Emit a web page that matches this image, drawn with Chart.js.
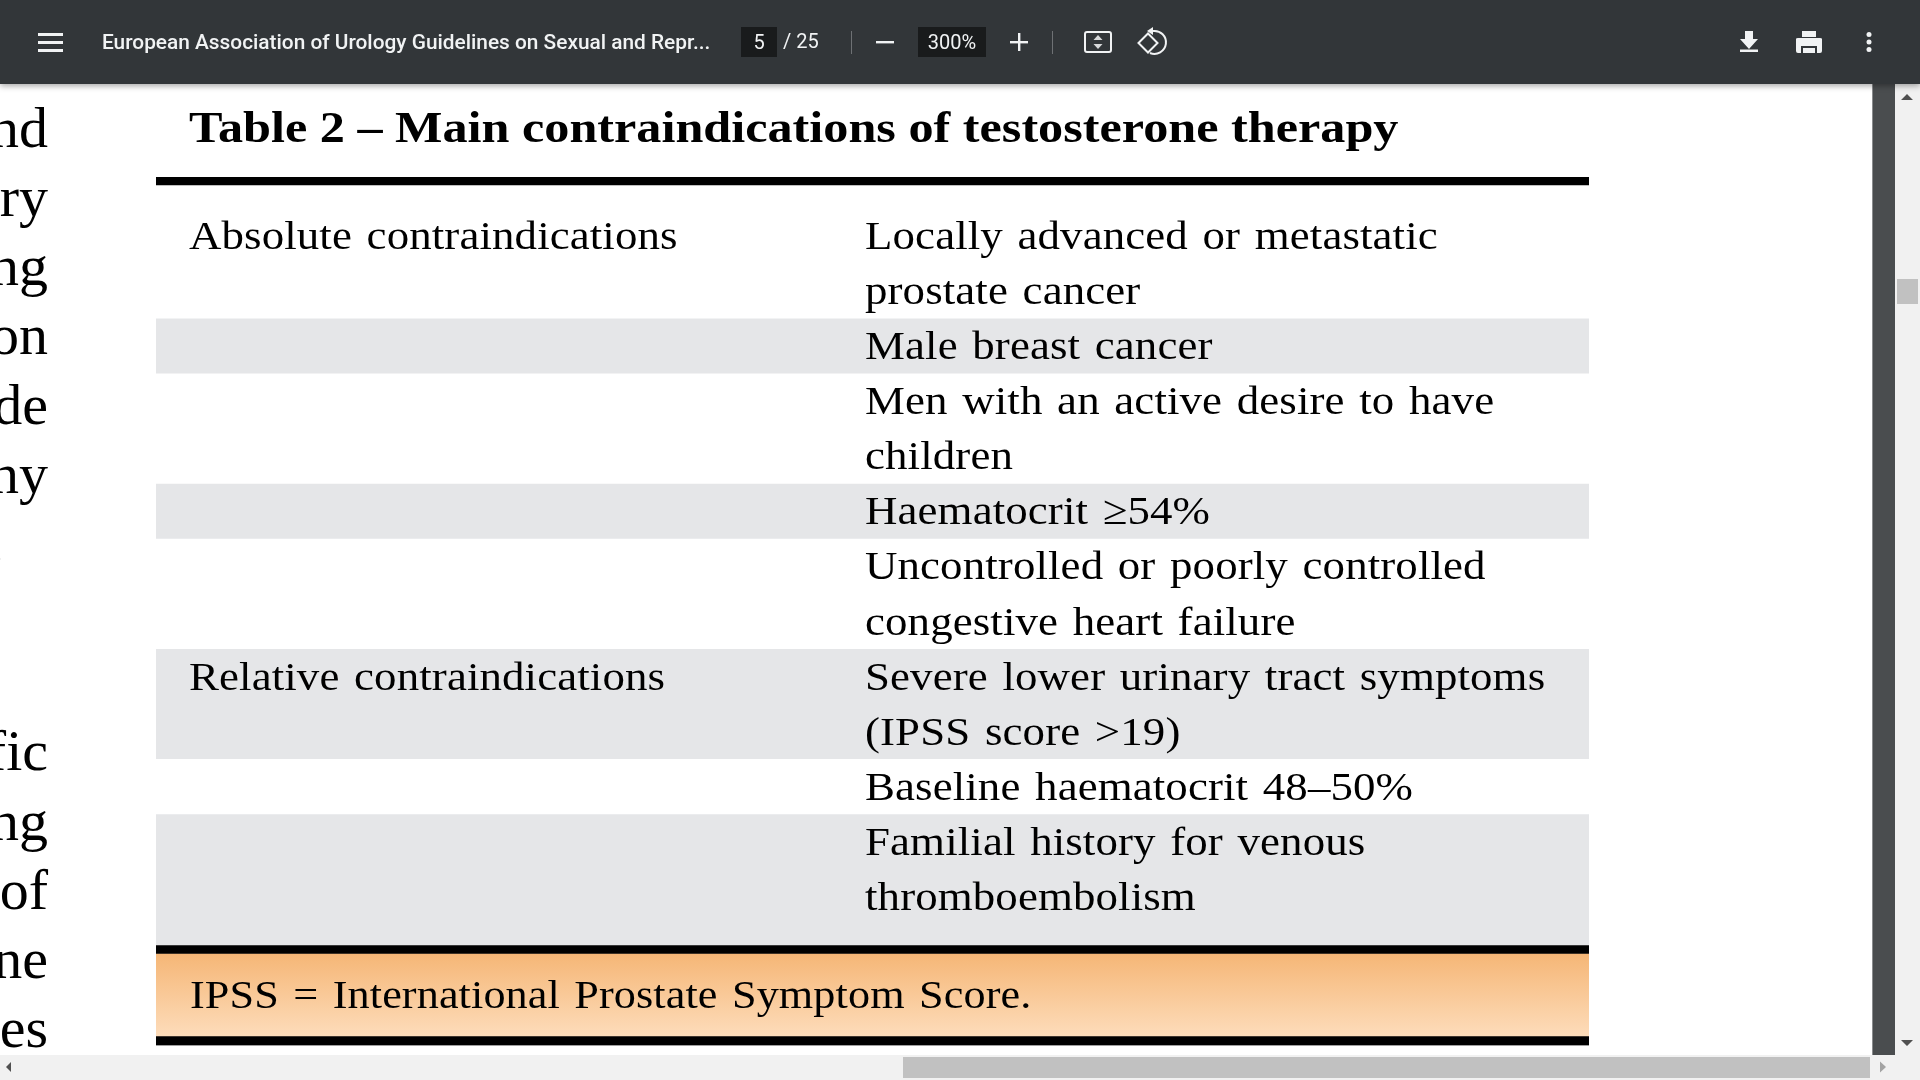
<!DOCTYPE html>
<html>
<head>
<meta charset="utf-8">
<title>Table 2</title>
<script src="https://cdn.jsdelivr.net/npm/chart.js@4"></script>
<style>
  html, body { margin: 0; padding: 0; width: 1920px; height: 1080px; overflow: hidden; background: #fff; }
  #sheet { position: absolute; left: 0; top: 0; }
  #toolbar { position: absolute; left: 0; top: 0; width: 1920px; height: 84px; background: #323639;
    box-shadow: 0 2px 6px rgba(0,0,0,0.35); color: #f1f3f4; font-family: Roboto, sans-serif; }
  .txt { position: absolute; white-space: nowrap; line-height: 24px; }
  .field { position: absolute; background: #191b1c; height: 30px; top: 27px; text-align: center; line-height: 30px; font-size: 20px; }
  .sep { position: absolute; width: 1px; top: 31px; height: 23px; background: #6e7174; }
  svg { position: absolute; left: 0; top: 0; }
  #vstrip { position: absolute; left: 1872px; top: 84px; width: 23px; height: 971px; background: #4a4d4f; border-left: 1px solid #8a8c8e; box-sizing: border-box; }
  #vbar { position: absolute; left: 1895px; top: 84px; width: 25px; height: 996px; background: #f1f1f1; }
  #vthumb { position: absolute; left: 1897px; top: 279px; width: 21px; height: 25px; background: #c1c1c1; }
  #hbar { position: absolute; left: 0; top: 1055px; width: 1895px; height: 25px; background: #f1f1f1; }
  #hthumb { position: absolute; left: 903px; top: 1057px; width: 967px; height: 21px; background: #c1c1c1; }
</style>
</head>
<body>
<canvas id="sheet" width="1920" height="1080"></canvas>

<div id="vstrip"></div>
<div id="vbar"></div>
<div id="vthumb"></div>
<div id="hbar"></div>
<div id="hthumb"></div>
<div id="toolbar">
  <div class="txt" id="docTitle" style="left:102px;top:30px;font-size:20.85px;font-weight:500;"></div>
  <div class="field" style="left:741px;width:36px;" id="pageNo"></div>
  <div class="txt" id="pageTotal" style="left:783px;top:29px;font-size:20px;"></div>
  <div class="sep" style="left:851px;"></div>
  <div class="field" style="left:918px;width:68px;" id="zoomNo"></div>
  <div class="sep" style="left:1052px;"></div>
</div>
<svg width="1920" height="1080" fill="none">
  <!-- menu -->
  <g fill="#f1f3f4"><rect x="38" y="33" width="25" height="3"/><rect x="38" y="41" width="25" height="3"/><rect x="38" y="49" width="25" height="3"/></g>
  <!-- zoom out / in -->
  <g fill="#f1f3f4"><rect x="876" y="41" width="18" height="2.4"/><rect x="1010" y="41" width="18" height="2.4"/><rect x="1018" y="33" width="2.4" height="18"/></g>
  <!-- fit to page -->
  <rect x="1085" y="32" width="26" height="20" rx="2" stroke="#f1f3f4" stroke-width="2"/>
  <path d="M1098 35 l4.500 5 h-9z M1098 49 l4.500 -5 h-9z" fill="#d8dadb"/>
  <!-- rotate -->
  <path d="M1138.500 43 l9.500 -9.500 l9.500 9.500 l-9.500 9.500z" stroke="#f1f3f4" stroke-width="2"/>
  <path d="M1153 31 A11.500 11.500 0 1 1 1150 53" stroke="#f1f3f4" stroke-width="2"/>
  <path d="M1153 27 v8 l-6 -4z" fill="#f1f3f4"/>
  <!-- download -->
  <path d="M1745 31 h8 v8 h5 l-9 10 l-9 -10 h5z" fill="#f1f3f4"/>
  <rect x="1740" y="49.500" width="18" height="2.500" fill="#f1f3f4"/>
  <!-- print -->
  <path d="M1802 31 h14 v6 h-14z M1796 39 q0 -1 2 -1 h22 q2 0 2 1 v12 q0 2 -2 2 h-3 v-7 h-16 v7 h-3 q-2 0 -2 -2z M1803 48 h12 v5 h-12z" fill="#f1f3f4"/>
  <!-- more -->
  <g fill="#f1f3f4"><circle cx="1869" cy="34.500" r="2.500"/><circle cx="1869" cy="42" r="2.500"/><circle cx="1869" cy="49.500" r="2.500"/></g>
  <!-- scroll arrows -->
  <path d="M1907 94 l6 6 h-12z M1907 1046 l6 -6 h-12z" fill="#505050"/>
  <path d="M6 1067 l5 -5 v10z" fill="#505050"/>
  <path d="M1886 1067 l-6 -5.500 v11z" fill="#a3a3a3"/>
</svg>

<script>
const docTitle = 'European Association of Urology Guidelines on Sexual and Repr...';
const currentPage = '5';
const pageTotal = '/ 25';
const zoomLevel = '300%';

const tableTitle = 'Table 2 \u2013 Main contraindications of testosterone therapy';
const groupLabels = ['Absolute contraindications', '', '', '', '', 'Relative contraindications', '', ''];
const contraindications = [
  ['Locally advanced or metastatic', 'prostate cancer'],
  ['Male breast cancer'],
  ['Men with an active desire to have', 'children'],
  ['Haematocrit \u226554%'],
  ['Uncontrolled or poorly controlled', 'congestive heart failure'],
  ['Severe lower urinary tract symptoms', '(IPSS score >19)'],
  ['Baseline haematocrit 48\u201350%'],
  ['Familial history for venous', 'thromboembolism']
];
const footnote = 'IPSS = International Prostate Symptom Score.';
// word ends of the neighbouring column, cut off by the left edge of the window
const marginWords = ['nd', 'ry', 'ng', 'on', 'de', 'ny', '.', '', '', 'fic', 'ng', 'of', 'ne', 'es'];

document.getElementById('docTitle').textContent = docTitle;
document.getElementById('pageNo').textContent = currentPage;
document.getElementById('pageTotal').textContent = pageTotal;
document.getElementById('zoomNo').textContent = zoomLevel;

// y axis is in text lines, one line of the table is 55px
const LINE = 55.05;
const ruleTop = 8 / LINE;
const headGap = 23 / LINE;
const lastRowExtra = 21 / LINE;
const ruleMid = 8.5 / LINE;
const footLines = 82.5 / LINE;
const ruleBottom = 9.5 / LINE;

const rowLines = contraindications.map((c, i) => c.length + (i === contraindications.length - 1 ? lastRowExtra : 0));
const bodyStart = ruleTop + headGap;
const totalLines = bodyStart + rowLines.reduce((a, b) => a + b, 0) + ruleMid + footLines + ruleBottom;

const segment = (label, value, color) => ({ label, data: [value], backgroundColor: color, borderWidth: 0, barPercentage: 1, categoryPercentage: 1 });

const footGradient = (context) => {
  const chart = context.chart;
  if (!chart.chartArea) return '#f8c998';
  const yScale = chart.scales.y;
  const from = yScale.getPixelForValue(totalLines - ruleBottom - footLines);
  const to = yScale.getPixelForValue(totalLines - ruleBottom);
  const grad = chart.ctx.createLinearGradient(0, from, 0, to);
  grad.addColorStop(0, '#f5b676');
  grad.addColorStop(1, '#fddcba');
  return grad;
};

// the table face is wider than Liberation Serif, so stretch it sideways
const wideText = (ctx, text, x, y, stretch) => {
  ctx.save();
  ctx.translate(x, y);
  ctx.scale(stretch, 1);
  ctx.fillText(text, 0, 0);
  ctx.restore();
};

const tableText = {
  id: 'tableText',
  afterDatasetsDraw(chart) {
    const { ctx, chartArea, scales } = chart;
    const y = scales.y;
    const colA = chartArea.left + 33;
    const colB = chartArea.left + 709;
    ctx.save();
    ctx.fillStyle = '#000';
    ctx.textBaseline = 'alphabetic';
    ctx.textAlign = 'left';

    ctx.font = 'bold 45px "Liberation Serif"';
    wideText(ctx, tableTitle, colA, 142, 1.116);

    ctx.font = '41px "Liberation Serif"';
    ctx.letterSpacing = '0.1px';
    ctx.wordSpacing = '3px';
    let line = bodyStart;
    contraindications.forEach((cell, i) => {
      if (groupLabels[i]) wideText(ctx, groupLabels[i], colA, y.getPixelForValue(line) + 41, 1.095);
      cell.forEach((text, k) => wideText(ctx, text, colB, y.getPixelForValue(line + k) + 41, 1.095));
      line += rowLines[i];
    });

    wideText(ctx, footnote, colA + 1, y.getPixelForValue(totalLines - ruleBottom) - 28, 1.078);

    ctx.font = '58px "Liberation Serif"';
    ctx.letterSpacing = '0px';
    ctx.wordSpacing = '0px';
    ctx.textAlign = 'right';
    marginWords.forEach((word, i) => ctx.fillText(word, word === '.' ? 4 : 48, 146.5 + i * 69.3));
    ctx.restore();
  }
};

new Chart(document.getElementById('sheet'), {
  type: 'bar',
  data: {
    labels: ['Table 2'],
    datasets: [
      segment('top rule', ruleTop, '#000'),
      segment('gap', headGap, '#fff'),
      ...contraindications.map((c, i) => segment('row ' + (i + 1), rowLines[i], i % 2 ? '#e5e6e8' : '#fff')),
      segment('middle rule', ruleMid, '#000'),
      segment('footnote', footLines, footGradient),
      segment('bottom rule', ruleBottom, '#000')
    ]
  },
  options: {
    responsive: false,
    animation: false,
    devicePixelRatio: 1,
    layout: { padding: { left: 156, right: 331, top: 177, bottom: 34.5 } },
    plugins: { legend: { display: false }, title: { display: false }, tooltip: { enabled: false } },
    scales: {
      x: { stacked: true, display: false },
      y: { stacked: true, display: false, reverse: true, min: 0, max: totalLines }
    }
  },
  plugins: [tableText]
});
</script>
</body>
</html>
